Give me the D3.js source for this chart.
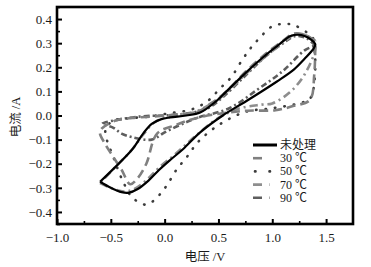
<!DOCTYPE html>
<html><head><meta charset="utf-8">
<script src="https://cdn.jsdelivr.net/npm/d3@7"></script>
<style>body{margin:0;background:#fff;}</style></head>
<body><svg id="c" width="371" height="267"></svg>
<script>
// ---- data ----
const xTicks = [-1.0, -0.5, 0.0, 0.5, 1.0, 1.5];
const yTicks = [-0.4, -0.3, -0.2, -0.1, 0.0, 0.1, 0.2, 0.3, 0.4];
const seriesNames = ["未处理", "30 ℃", "50 ℃", "70 ℃", "90 ℃"];

const vUntreated = [-0.6,-0.5,-0.4,-0.33,-0.25,-0.15,-0.05,0.05,0.17,0.33,0.54,0.76,1.04,1.2,1.3,1.38,1.4,1.36,1.3,1.24,1.17,1.05,0.95,0.76,0.54,0.48,0.33,0.2,0.05,-0.03,-0.12,-0.2,-0.3,-0.45,-0.6];
const iUntreated = [-0.275,-0.3,-0.318,-0.32,-0.305,-0.27,-0.225,-0.185,-0.14,-0.07,0.0,0.06,0.14,0.19,0.235,0.275,0.295,0.315,0.33,0.335,0.33,0.29,0.255,0.18,0.085,0.06,0.012,0.0,-0.008,-0.015,-0.035,-0.075,-0.14,-0.21,-0.275];

const v30 = [1.4,1.3,1.2,1.1,0.95,0.76,0.55,0.43,0.3,0.1,-0.1,-0.3,-0.45,-0.6,-0.55,-0.48,-0.4,-0.32,-0.25,-0.17,-0.07,0.1,0.3,0.55,0.77,1.03,1.2,1.35,1.39,1.4];
const i30 = [0.31,0.335,0.34,0.31,0.26,0.185,0.09,0.05,0.014,0.004,-0.004,-0.01,-0.02,-0.065,-0.12,-0.17,-0.225,-0.285,-0.26,-0.2,-0.075,-0.04,-0.01,0.01,0.02,0.022,0.04,0.065,0.17,0.31];

const v50 = [1.38,1.32,1.2,1.12,1.0,0.88,0.8,0.72,0.62,0.51,0.4,0.25,0.05,-0.15,-0.35,-0.48,-0.55,-0.47,-0.38,-0.3,-0.17,-0.05,0.02,0.11,0.21,0.31,0.5,0.75,1.0,1.24,1.35,1.4,1.38];
const i50 = [0.32,0.345,0.375,0.38,0.37,0.32,0.28,0.23,0.16,0.11,0.06,0.025,0.01,-0.005,-0.012,-0.022,-0.06,-0.18,-0.28,-0.34,-0.37,-0.33,-0.29,-0.225,-0.17,-0.11,-0.04,0.015,0.03,0.05,0.07,0.2,0.32];

const v70 = [-0.6,-0.5,-0.38,-0.28,-0.15,-0.05,0.1,0.3,0.5,0.7,0.9,1.0,1.16,1.3,1.4,1.38,1.3,1.2,1.1,0.95,0.76,0.55,0.42,0.25,0.05,-0.1,-0.2,-0.3,-0.45,-0.6];
const i70 = [-0.28,-0.3,-0.315,-0.305,-0.26,-0.215,-0.16,-0.08,-0.01,0.03,0.045,0.05,0.095,0.17,0.28,0.31,0.335,0.335,0.3,0.25,0.175,0.085,0.045,0.01,0.0,-0.03,-0.08,-0.14,-0.21,-0.28];

const v90 = [1.4,1.32,1.22,1.1,0.95,0.76,0.55,0.4,0.2,0.0,-0.2,-0.4,-0.58,-0.48,-0.4,-0.3,-0.12,0.0,0.14,0.3,0.6,0.87,1.1,1.3,1.4];
const i90 = [0.29,0.32,0.33,0.3,0.25,0.17,0.08,0.03,0.008,0.0,-0.003,-0.015,-0.035,-0.05,-0.075,-0.09,-0.1,-0.07,-0.04,-0.01,0.03,0.11,0.185,0.27,0.29];

const seriesV = [vUntreated, v30, v50, v70, v90];
const seriesI = [iUntreated, i30, i50, i70, i90];

// ---- styles ----
const colors = ["#000", "#808080", "#3c3c3c", "#8e8e8e", "#5e5e5e"];
const widths = [2.2, 2.6, 2.6, 2.6, 2.6];
const dashes = [null, "9,5", "0.5,9", "8,4,2,4", "6,3,2,3"];
const SERIF = "Liberation Serif, Noto Sans CJK SC, serif";

const svg = d3.select("#c");
const L = 57, R = 353, T = 7, B = 224;
const x = d3.scaleLinear().domain([-1.0, 1.75]).range([L, R]);
const y = d3.scaleLinear().domain([-0.45, 0.45]).range([B, T]);
const fmt = d3.format(".1f");

// minor ticks
const gx = svg.append("g").attr("transform", `translate(0,${B})`)
  .call(d3.axisBottom(x).tickValues(d3.range(-0.75, 1.75, 0.5)).tickSize(-3).tickFormat(""));
const gy = svg.append("g").attr("transform", `translate(${L},0)`)
  .call(d3.axisLeft(y).tickValues(d3.range(-0.45, 0.46, 0.1).map(d => +d.toFixed(2))).tickSize(-3).tickFormat(""));
[gx, gy].forEach(g => { g.select(".domain").remove(); g.selectAll("line").attr("stroke", "#000").attr("stroke-width", 1.6); });

// major axes
const ax = svg.append("g").attr("transform", `translate(0,${B})`)
  .call(d3.axisBottom(x).tickValues(xTicks).tickFormat(fmt).tickSizeInner(-5).tickSizeOuter(0).tickPadding(9));
const ay = svg.append("g").attr("transform", `translate(${L},0)`)
  .call(d3.axisLeft(y).tickValues(yTicks).tickFormat(fmt).tickSizeInner(-5).tickSizeOuter(0).tickPadding(5));
[ax, ay].forEach(g => {
  g.attr("font-family", SERIF);
  g.select(".domain").remove();
  g.selectAll("line").attr("stroke", "#000").attr("stroke-width", 2);
  g.selectAll("text").attr("font-size", 13).attr("fill", "#1a1a1a").attr("font-family", SERIF);
});

// curves
const line = d3.line().x(d => x(d[0])).y(d => y(d[1])).curve(d3.curveCatmullRom.alpha(0.5));
const plot = svg.append("g");
for (let k = seriesV.length - 1; k >= 0; k--) {
  const pts = seriesV[k].map((v, j) => [v, seriesI[k][j]]);
  const p = plot.append("path").attr("d", line(pts)).attr("fill", "none")
    .attr("stroke", colors[k]).attr("stroke-width", widths[k]);
  if (dashes[k]) p.attr("stroke-dasharray", dashes[k]);
  if (k === 2) p.attr("stroke-linecap", "round");
}

// frame
svg.append("rect").attr("x", L).attr("y", T).attr("width", R - L).attr("height", B - T)
  .attr("fill", "none").attr("stroke", "#000").attr("stroke-width", 2.6);

// axis titles
svg.append("text").attr("x", 205).attr("y", 261).attr("text-anchor", "middle")
  .attr("font-size", 12.5).attr("fill", "#1a1a1a").attr("font-family", SERIF).text("电压 /V");
svg.append("text").attr("transform", "translate(20,117) rotate(-90)").attr("text-anchor", "middle")
  .attr("font-size", 12.5).attr("fill", "#1a1a1a").attr("font-family", SERIF).text("电流 /A");

// legend
const legDash = [null, "9,30", "0.5,14", "9,7,0.5,30", "9,7,0.5,30"];
const lg = svg.append("g");
seriesNames.forEach((name, k) => {
  const yy = 145 + k * 13.2;
  const ln = lg.append("line").attr("x1", 253).attr("x2", 277).attr("y1", yy).attr("y2", yy)
    .attr("stroke", colors[k]).attr("stroke-width", k === 0 ? 3 : 2.6);
  if (legDash[k]) ln.attr("stroke-dasharray", legDash[k]);
  if (k === 2) ln.attr("stroke-linecap", "round").attr("x1", 255);
  lg.append("text").attr("x", 280).attr("y", yy + 4).attr("font-size", 12)
    .attr("fill", "#1a1a1a").attr("font-family", SERIF).text(name);
});
</script></body></html>
